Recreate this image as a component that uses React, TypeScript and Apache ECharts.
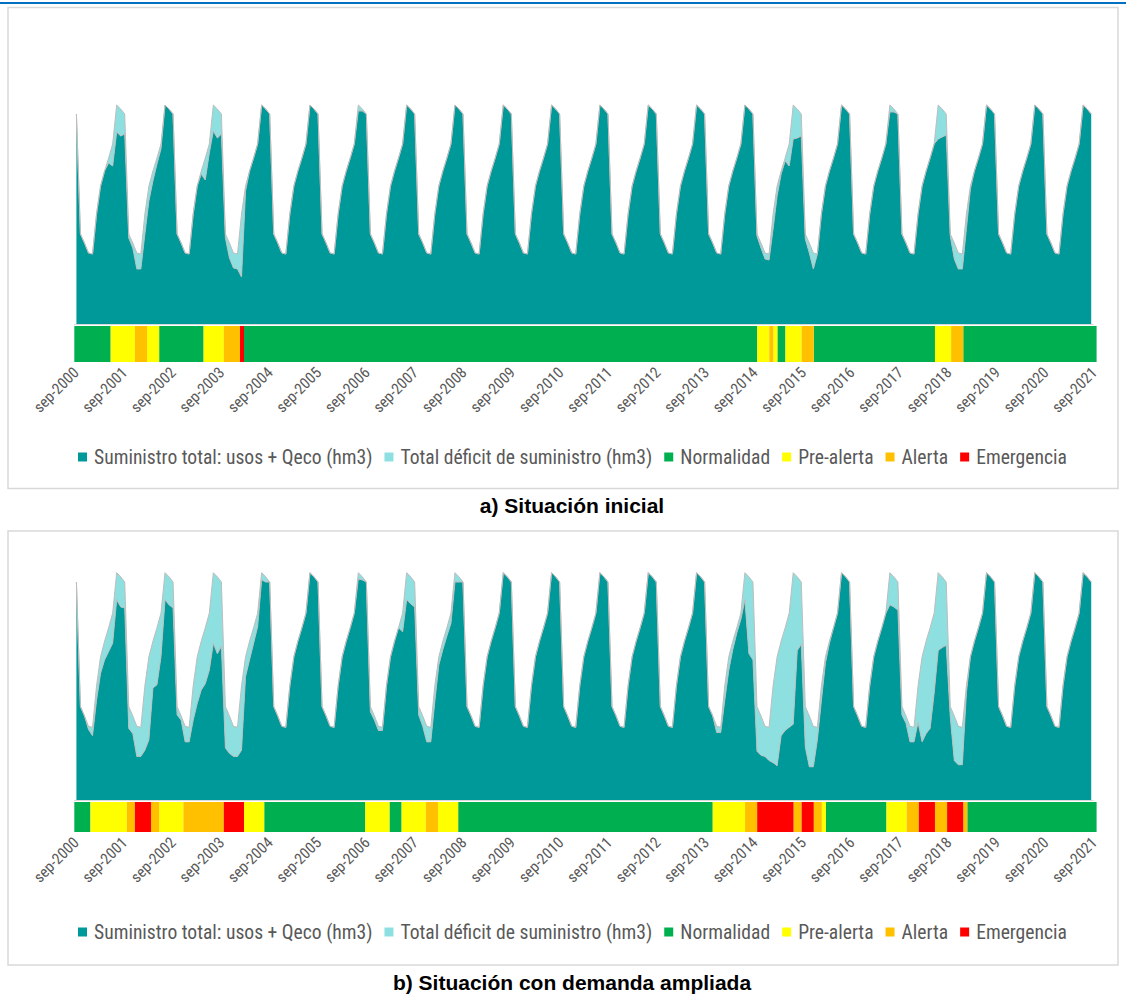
import React, { useEffect, useRef } from "react";
import * as echarts from "echarts";

// ---------------- DATA ----------------
const MONTHS = ["oct", "nov", "dic", "ene", "feb", "mar", "abr", "may", "jun", "jul", "ago", "sep"];
const FIRST_YEAR = 2000;
const N_YEARS = 21; // hydrological years oct-2000 .. sep-2021

// Total demand (supply + deficit) per month, oct..sep (hm3)
const demandByMonth = [9.0, 8.1, 7.1, 7.0, 11.0, 13.8, 15.3, 16.6, 18.0, 21.9, 21.5, 21.0];
const demandSep2000 = 21.0;

// Deficits: [hydrological year index (0 = oct-2000..sep-2001), oct..sep values]
const deficitA: [number, number[]][] = [
  [0, [0, 0, 0, 0, 0, 0, 0, 0.5, 2.2, 2.7, 2.7, 2.0]],
  [1, [0.4, 0.5, 1.6, 1.5, 2.0, 1.5, 1.0, 0.6, 0.5, 0, 0, 0]],
  [2, [0, 0, 0, 0, 0, 0, 0.3, 2.2, 0.9, 2.6, 2.9, 2.0]],
  [3, [0.4, 1.5, 1.5, 1.5, 6.3, 0.5, 0, 0, 0, 0, 0, 0]],
  [5, [0, 0, 0, 0, 0, 0, 0, 0, 0, 0.6, 0.2, 0]],
  [14, [0.2, 0.5, 0.6, 0.6, 1.5, 1.0, 0.3, 0.3, 2.2, 3.4, 2.9, 2.2]],
  [15, [0.5, 1.0, 1.6, 0, 0, 0, 0, 0, 0, 0, 0, 0]],
  [16, [0, 0, 0, 0, 0, 0, 0, 0, 0, 0.7, 0.3, 0]],
  [17, [0, 0, 0, 0, 0, 0, 0, 0, 0, 3.4, 2.8, 2.1]],
  [18, [0.2, 1.6, 1.6, 1.5, 1.5, 0.3, 0, 0, 0, 0, 0, 0]],
];

const deficitB: [number, number[]][] = [
  [0, [0, 0, 0.3, 0.8, 1.4, 1.6, 1.8, 2.3, 2.9, 2.6, 2.9, 2.5]],
  [1, [2.1, 1.7, 2.9, 2.8, 6.2, 8.0, 4.5, 5.5, 4.2, 2.6, 2.7, 2.5]],
  [2, [0.8, 0.4, 1.5, 1.4, 3.3, 4.5, 4.7, 5.4, 5.5, 6.8, 7.4, 6.2]],
  [3, [4.0, 3.6, 2.9, 2.8, 6.2, 1.9, 1.8, 1.5, 1.3, 0.7, 0.5, 0]],
  [5, [0, 0, 0, 0, 0, 0, 0, 0, 0, 0.6, 0.3, 0]],
  [6, [0.5, 0.4, 0.4, 0.3, 0, 0, 0, 0, 1.8, 2.6, 2.6, 2.4]],
  [7, [0.8, 1.0, 1.5, 1.4, 1.5, 0.8, 0.8, 0.8, 1.0, 0.9, 0.5, 0]],
  [13, [0, 0, 0.6, 0.5, 1.4, 1.3, 0.8, 0.5, 0.6, 2.6, 7.4, 7.5]],
  [14, [4.3, 3.8, 2.9, 3.2, 7.4, 10.5, 9.1, 9.9, 11.0, 14.6, 7.1, 6.0]],
  [15, [3.9, 4.9, 3.9, 1.2, 1.4, 0.6, 0.2, 0, 0, 0, 0, 0]],
  [16, [0, 0, 0, 0, 0, 0, 0, 0, 0, 3.1, 2.9, 2.7]],
  [17, [0.8, 0.7, 1.5, 1.4, 3.5, 8.2, 8.9, 9.7, 7.7, 7.5, 6.8, 6.1]],
  [18, [1.0, 4.3, 3.7, 3.6, 0.7, 0, 0, 0, 0, 0, 0, 0]],
];

// Status runs from sep-2000: [status, number of months]
const statusRunsA: [string, number][] = [
  ["N", 9], ["P", 6], ["A", 3], ["P", 3], ["N", 11], ["P", 5], ["A", 4], ["E", 1],
  ["N", 127], ["P", 3], ["A", 1], ["P", 1], ["N", 2], ["P", 4], ["A", 3], ["N", 30],
  ["P", 4], ["A", 3], ["N", 33],
];
const statusRunsB: [string, number][] = [
  ["N", 4], ["P", 9], ["A", 2], ["E", 4], ["A", 2], ["P", 6], ["A", 10], ["E", 5], ["P", 5],
  ["N", 25], ["P", 6], ["N", 3], ["P", 6], ["A", 3], ["P", 5], ["N", 63], ["P", 8], ["A", 3],
  ["E", 9], ["A", 2], ["E", 3], ["A", 2], ["P", 1], ["N", 15], ["P", 5], ["A", 3], ["E", 4],
  ["A", 3], ["E", 4], ["A", 1], ["N", 32],
];

const STATUS_KEYS = ["N", "P", "A", "E"];
const STATUS_NAMES: Record<string, string> = { N: "Normalidad", P: "Pre-alerta", A: "Alerta", E: "Emergencia" };
const STATUS_COLORS: Record<string, string> = { N: "#00B050", P: "#FFFF00", A: "#FFC000", E: "#FF0000" };
const SUPPLY_NAME = "Suministro total: usos + Qeco (hm3)";
const DEFICIT_NAME = "Total déficit de suministro (hm3)";
const SUPPLY_COLOR = "#009999";
const DEFICIT_COLOR = "#8EE0E0";
const CAPTIONS = ["a) Situación inicial", "b) Situación con demanda ampliada"];

const FONT = "'Liberation Sans Narrow', 'Arial Narrow', 'Roboto Condensed', 'DejaVu Sans Condensed', sans-serif";
const CAPTION_FONT = "'Liberation Sans', Arial, sans-serif";

// ---------------- BUILD ----------------
function buildCategories(): string[] {
  const cats = [`sep-${FIRST_YEAR}`];
  for (let h = 0; h < N_YEARS; h++) {
    for (let m = 0; m < 12; m++) {
      cats.push(`${MONTHS[m]}-${m < 3 ? FIRST_YEAR + h : FIRST_YEAR + h + 1}`);
    }
  }
  return cats;
}

function buildDemand(): number[] {
  const d = [demandSep2000];
  for (let h = 0; h < N_YEARS; h++) for (let m = 0; m < 12; m++) d.push(demandByMonth[m]);
  return d;
}

function buildDeficit(sparse: [number, number[]][], n: number): number[] {
  const d = new Array(n).fill(0);
  sparse.forEach(([h, vals]) => vals.forEach((v, m) => (d[1 + h * 12 + m] = v)));
  return d;
}

// runs -> [startIndex, endIndex, statusKey]
function runsToSpans(runs: [string, number][]): [number, number, string][] {
  const out: [number, number, string][] = [];
  let i = 0;
  runs.forEach(([s, k]) => {
    out.push([i, i + k - 1, s]);
    i += k;
  });
  return out;
}

const categories = buildCategories();
const demand = buildDemand();

function panelSeries(deficitSparse: [number, number[]][], runs: [string, number][], areaIdx: number, statusIdx: number, key: string) {
  const deficit = buildDeficit(deficitSparse, demand.length);
  const supply = demand.map((v, i) => Math.round((v - deficit[i]) * 100) / 100);
  const spans = runsToSpans(runs);
  const series: any[] = [
    {
      name: SUPPLY_NAME,
      type: "line",
      stack: "area" + key,
      xAxisIndex: areaIdx,
      yAxisIndex: areaIdx,
      data: supply,
      symbol: "none",
      itemStyle: { color: SUPPLY_COLOR },
      lineStyle: { color: "#BDBDBD", width: 1 },
      areaStyle: { color: SUPPLY_COLOR, opacity: 1 },
    },
    {
      name: DEFICIT_NAME,
      type: "line",
      stack: "area" + key,
      xAxisIndex: areaIdx,
      yAxisIndex: areaIdx,
      data: deficit,
      symbol: "none",
      itemStyle: { color: DEFICIT_COLOR },
      lineStyle: { color: "#BDBDBD", width: 1 },
      areaStyle: { color: DEFICIT_COLOR, opacity: 1 },
    },
  ];
  STATUS_KEYS.forEach((s) => {
    const color = STATUS_COLORS[s];
    series.push({
      name: STATUS_NAMES[s],
      type: "custom",
      xAxisIndex: statusIdx,
      yAxisIndex: statusIdx,
      itemStyle: { color },
      encode: { x: [0, 1] },
      data: spans.filter((sp) => sp[2] === s).map((sp) => [sp[0], sp[1]]),
      renderItem: (params: any, api: any) => {
        const start = api.value(0);
        const end = api.value(1);
        const bw = api.size([1, 0])[0];
        const p0 = api.coord([start, 1]);
        const p1 = api.coord([end, 0]);
        return {
          type: "rect",
          shape: { x: p0[0] - bw / 2, y: p0[1], width: p1[0] - p0[0] + bw, height: p1[1] - p0[1] },
          style: { fill: color },
        };
      },
    });
  });
  return series;
}

const AREA_LEFT = 74.4;
const AREA_WIDTH = 253 * 4.027;
const STATUS_LEFT = 74.3;
const STATUS_WIDTH = 1022.3;

const areaX = (gridIndex: number) => ({
  type: "category",
  gridIndex,
  data: categories,
  boundaryGap: true,
  axisTick: { show: false },
  axisLabel: { show: false },
  axisLine: { show: true, lineStyle: { color: "#D9D9D9", width: 1 } },
  splitLine: { show: false },
});
const statusX = (gridIndex: number) => ({
  type: "category",
  gridIndex,
  data: categories,
  boundaryGap: true,
  axisTick: { show: false },
  axisLine: { show: false },
  splitLine: { show: false },
  axisLabel: {
    show: true,
    interval: 11,
    rotate: 45,
    margin: 8,
    color: "#595959",
    fontSize: 15.5,
    fontFamily: FONT,
  },
});

const legendItems = [SUPPLY_NAME, DEFICIT_NAME, ...STATUS_KEYS.map((s) => STATUS_NAMES[s])];
const legendColors = [SUPPLY_COLOR, DEFICIT_COLOR, ...STATUS_KEYS.map((s) => STATUS_COLORS[s])];
const legendOf = (top: number) => ({
  top,
  left: 78,
  orient: "horizontal",
  selectedMode: false,
  icon: "rect",
  itemWidth: 9,
  itemHeight: 9,
  itemGap: 12,
  padding: 0,
  textStyle: { color: "#595959", fontSize: 19.6, fontFamily: FONT, padding: [0, 0, 0, 2] },
  data: legendItems.map((n, i) => ({ name: n, itemStyle: { color: legendColors[i], borderWidth: 0 }, lineStyle: { width: 0 } })),
});

function buildOption() {
  return {
    animation: false,
    backgroundColor: "#ffffff",
    grid: [
      { left: AREA_LEFT, width: AREA_WIDTH, top: 24, height: 300 },
      { left: STATUS_LEFT, width: STATUS_WIDTH, top: 326, height: 36 },
      { left: AREA_LEFT, width: AREA_WIDTH, top: 800 - 311.4, height: 311.4 },
      { left: STATUS_LEFT, width: STATUS_WIDTH, top: 802, height: 30 },
    ],
    xAxis: [areaX(0), statusX(1), areaX(2), statusX(3)],
    yAxis: [0, 1, 2, 3].map((g) => ({
      type: "value",
      gridIndex: g,
      min: 0,
      max: g % 2 === 0 ? 30 : 1,
      show: false,
    })),
    legend: [legendOf(447), legendOf(922)],
    series: [...panelSeries(deficitA, statusRunsA, 0, 1, "a"), ...panelSeries(deficitB, statusRunsB, 2, 3, "b")],
    graphic: [
      { type: "rect", shape: { x: 0, y: 2, width: 1126, height: 2 }, style: { fill: "#0070C0" }, silent: true },
      { type: "rect", shape: { x: 8, y: 7.5, width: 1110, height: 481 }, style: { fill: "none", stroke: "#D9D9D9", lineWidth: 1.5 }, silent: true },
      { type: "rect", shape: { x: 8, y: 531, width: 1110, height: 434 }, style: { fill: "none", stroke: "#D9D9D9", lineWidth: 1.5 }, silent: true },
      {
        type: "text",
        x: 572,
        y: 505,
        style: { text: CAPTIONS[0], textAlign: "center", textVerticalAlign: "middle", fill: "#000", font: `bold 21px ${CAPTION_FONT}` },
      },
      {
        type: "text",
        x: 572,
        y: 982,
        style: { text: CAPTIONS[1], textAlign: "center", textVerticalAlign: "middle", fill: "#000", font: `bold 21px ${CAPTION_FONT}` },
      },
    ],
  };
}

export default function App() {
  const ref = useRef<HTMLDivElement>(null);
  useEffect(() => {
    if (!ref.current) return;
    const chart = echarts.init(ref.current, undefined, { renderer: "svg" });
    chart.setOption(buildOption() as any);
    return () => chart.dispose();
  }, []);
  return (
    <div
      ref={ref}
      style={{ position: "fixed", left: 0, top: 0, width: 1126, height: 996, background: "#fff" }}
    />
  );
}
